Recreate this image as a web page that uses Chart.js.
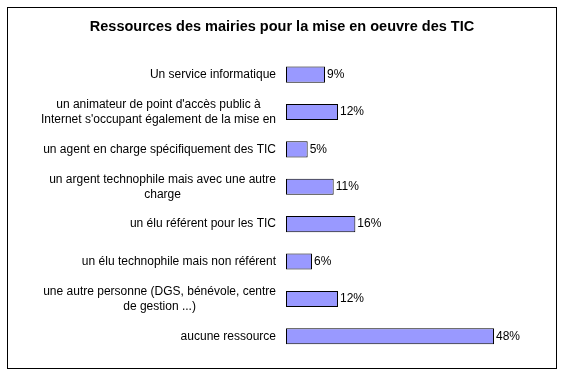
<!DOCTYPE html>
<html>
<head>
<meta charset="utf-8">
<script src="https://cdn.jsdelivr.net/npm/chart.js@4/dist/chart.umd.min.js"></script>
<style>
  html, body { margin: 0; padding: 0; background: #fff; }
  #wrap { width: 567px; height: 378px; }
</style>
</head>
<body>
<div id="wrap"><canvas id="ticChart" width="567" height="378"></canvas></div>
<script>
const labels = [
    'Un service informatique',
    ["un animateur de point d'accès public à", "Internet s'occupant également de la mise en"],
    'un agent en charge spécifiquement des TIC',
    ['un argent technophile mais avec une autre', 'charge'],
    'un élu référent pour les TIC',
    'un élu technophile mais non référent',
    ['une autre personne (DGS, bénévole, centre', 'de gestion ...)'],
    'aucune ressource'
];
const values = [9, 12, 5, 11, 16, 6, 12, 48];
const chartTitle = 'Ressources des mairies pour la mise en oeuvre des TIC';

const FONT = "'Liberation Sans', Arial, sans-serif";

// frame around the whole chart
const framePlugin = {
    id: 'frame',
    beforeDraw(chart) {
        const ctx = chart.ctx;
        ctx.save();
        ctx.fillStyle = '#fff';
        ctx.fillRect(0, 0, chart.width, chart.height);
        ctx.strokeStyle = '#000';
        ctx.lineWidth = 1;
        ctx.strokeRect(7.5, 7.5, 549, 361);
        ctx.restore();
    }
};

// category labels: block right aligned, lines centred inside the block
const catLabels = {
    id: 'catLabels',
    afterDraw(chart) {
        const ctx = chart.ctx;
        const y = chart.scales.y;
        ctx.save();
        ctx.font = '12px ' + FONT;
        ctx.fillStyle = '#000';
        ctx.textBaseline = 'middle';
        ctx.textAlign = 'center';
        const right = chart.chartArea.left - 10;
        const lh = 15;
        labels.forEach((lab, i) => {
            const lines = Array.isArray(lab) ? lab : [lab];
            const w = Math.max(...lines.map(l => ctx.measureText(l).width));
            const cy = y.getPixelForTick(i);
            const y0 = cy - (lines.length - 1) * lh / 2;
            lines.forEach((l, k) => ctx.fillText(l, right - w / 2, y0 + k * lh));
        });
        ctx.restore();
    }
};

// value labels at the end of each bar
const valueLabels = {
    id: 'valueLabels',
    afterDatasetsDraw(chart) {
        const ctx = chart.ctx;
        const meta = chart.getDatasetMeta(0);
        ctx.save();
        ctx.font = '12px ' + FONT;
        ctx.fillStyle = '#000';
        ctx.textBaseline = 'middle';
        ctx.textAlign = 'left';
        meta.data.forEach((bar, i) => {
            ctx.fillText(values[i] + '%', bar.x + 2, bar.y);
        });
        ctx.restore();
    }
};

const ctx = document.getElementById('ticChart').getContext('2d');
const chart = new Chart(ctx, {
    type: 'bar',
    data: {
        labels: labels,
        datasets: [{
            data: values,
            backgroundColor: '#9999ff',
            borderColor: '#000',
            borderWidth: 1,
            borderSkipped: false,
            categoryPercentage: 1,
            barPercentage: 0.43
        }]
    },
    options: {
        indexAxis: 'y',
        responsive: false,
        animation: false,
        devicePixelRatio: 1,
        layout: { padding: { left: 8, right: 11, top: 0, bottom: 23 } },
        plugins: {
            legend: { display: false },
            tooltip: { enabled: false },
            title: {
                display: true,
                text: chartTitle,
                color: '#000',
                font: { family: FONT, size: 14.5, weight: 'bold', lineHeight: 1.2 },
                padding: { top: 18, bottom: 20.5 }
            }
        },
        scales: {
            x: { display: false, min: 0, max: 62.3 },
            y: {
                grid: { display: false, drawTicks: false },
                border: { display: false },
                ticks: { display: false },
                afterFit(scale) { scale.width = 278; }
            }
        }
    },
    plugins: [framePlugin, catLabels, valueLabels]
});
</script>
</body>
</html>
